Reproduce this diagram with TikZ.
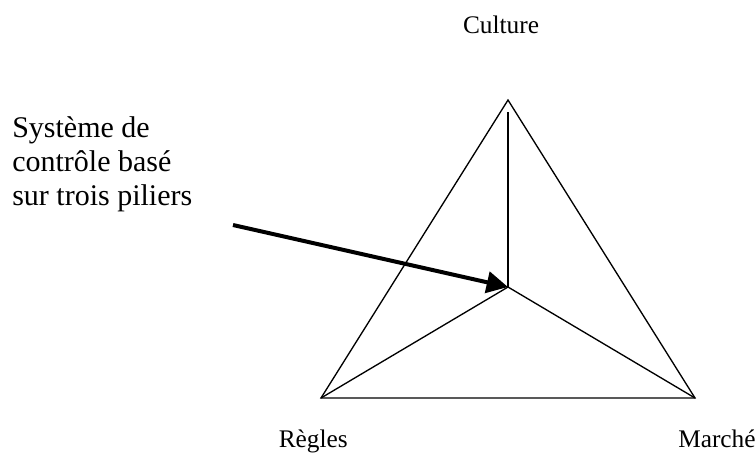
\documentclass[tikz,border=0pt]{standalone}
\usepackage{fontspec}
\setmainfont{Liberation Serif}
\usetikzlibrary{arrows.meta}
\tikzset{
  edge/.style={line width=1pt, black},
  bigarrow/.style={line width=3pt, -{Triangle[length=16pt,width=16pt]}},
  lbl/.style={inner sep=0pt, font=\fontsize{19}{22}\selectfont},
  side/.style={inner sep=0pt, anchor=base west, font=\fontsize{22.5}{25.5}\selectfont}
}
\begin{document}
\begin{tikzpicture}[x=0.75pt,y=-0.75pt]
\path[use as bounding box, fill=white] (0,0) rectangle (756,455);
\coordinate (A) at (508,100);
\coordinate (L) at (321,398);
\coordinate (R) at (695,398);
\coordinate (C) at (508,287);
\coordinate (V) at (508,112);
\coordinate (S) at (233,225);
\draw[edge, line join=miter] (A) -- (L) -- (R) -- cycle;
\draw[edge] (C) -- (V);
\draw[edge] (C) -- (L);
\draw[edge] (C) -- (R);
\draw[bigarrow] (S) -- (C);
\node[lbl, anchor=base] (cul) at (501,33) {Culture};
\node[lbl, anchor=base east] (reg) at (348,447) {Règles};
\node[lbl, anchor=base west] (mar) at (678,447) {Marché};
\node[side] (t1) at (12,137) {Système de};
\node[side] (t2) at (12,171) {contrôle basé};
\node[side] (t3) at (12,205) {sur trois piliers};
\end{tikzpicture}
\end{document}
